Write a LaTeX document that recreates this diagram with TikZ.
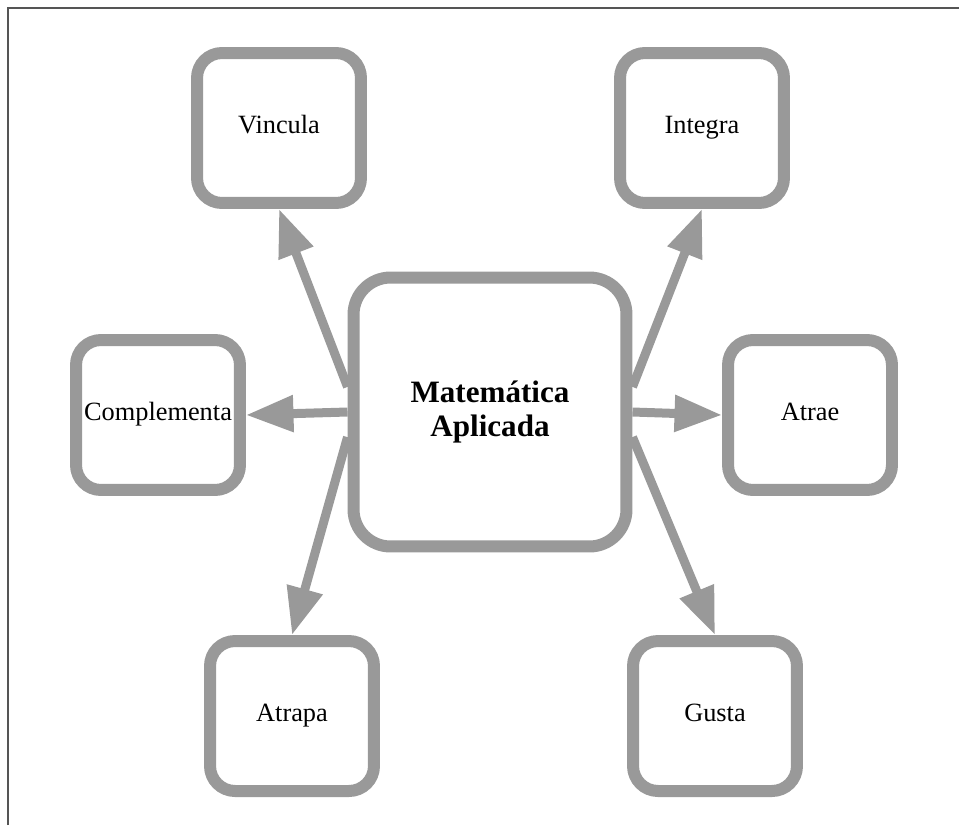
\documentclass[tikz,border=0pt]{standalone}
\usepackage{fontspec}
\setmainfont{Liberation Serif}
\definecolor{boxgray}{HTML}{999999}
\definecolor{framegray}{HTML}{555555}
\usetikzlibrary{arrows.meta}

\begin{document}
\begin{tikzpicture}[
    x=0.02cm, y=-0.02cm,
    card/.style={rectangle, draw=boxgray, fill=white, line width=0.24cm,
                 inner sep=0pt, align=center},
    leaf/.style={card, rounded corners=0.5cm, minimum width=3.28cm, minimum height=3cm,
                 text height=0.7em, text depth=0.1em, font=\fontsize{15}{18}\selectfont},
    hub/.style={card, rounded corners=0.74cm, minimum width=5.46cm, minimum height=5.38cm,
                font=\fontsize{17.7}{18.8}\selectfont\bfseries},
    arr/.style={-{Triangle[length=0.95cm, width=0.7cm]}, line width=0.18cm, color=boxgray}
  ]
    \useasboundingbox (0,0) rectangle (959,825);
    \draw[framegray, line width=1.2pt] (8,825) |- (959,8);

    \node[hub]  (main)  at (490,412) {Matemática\\Aplicada};
    \node[leaf] (vin)   at (279,128) {Vincula};
    \node[leaf] (integ) at (702,128) {Integra};
    \node[leaf] (comp)  at (158,415) {Complementa};
    \node[leaf] (atrae) at (810,415) {Atrae};
    \node[leaf] (atr)   at (292,716) {Atrapa};
    \node[leaf] (gus)   at (715,716) {Gusta};

    \draw[arr] (main.170) -- (vin.south);
    \draw[arr] (main.west) -- (comp.east);
    \draw[arr] (main.190) -- (atr.north);
    \draw[arr] (main.10)  -- (integ.south);
    \draw[arr] (main.east) -- (atrae.west);
    \draw[arr] (main.350) -- (gus.north);
  \end{tikzpicture}
\end{document}
